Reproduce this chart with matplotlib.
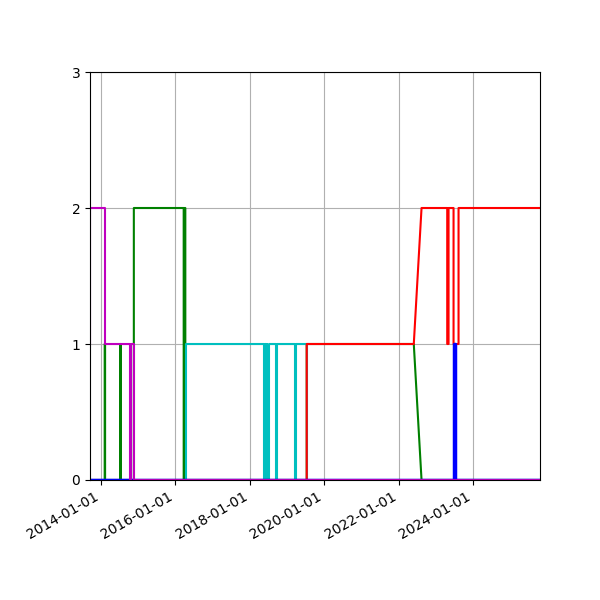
import matplotlib
matplotlib.use('Agg')
import matplotlib.pyplot as plt
import matplotlib.dates as mdates
import numpy as np

END = '2025-10-19'
START = '2013-09-18'

red_dates = [START, '2019-07-15', '2019-07-15', '2022-05-30', '2022-08-14', '2023-04-23', '2023-04-23',
             '2023-05-06', '2023-05-06', '2023-06-24', '2023-06-24', '2023-08-12', '2023-08-12', END]
red_vals = [0, 0, 1, 1, 2, 2, 1, 1, 2, 2, 1, 1, 2, 2]

green_dates = [START, '2014-02-09', '2014-02-09', '2014-02-13', '2014-02-13', '2014-07-12', '2014-07-12',
               '2014-07-16', '2014-07-16', '2014-11-22', '2014-11-22', '2016-03-25', '2016-03-25',
               '2016-04-04', '2016-04-04', '2016-04-10', '2016-04-10', '2019-07-15', '2019-07-15',
               '2022-05-30', '2022-08-14', END]
green_vals = [0, 0, 1, 1, 0, 0, 1, 1, 0, 0, 2, 2, 0, 0, 2, 2, 0, 0, 1, 1, 0, 0]

cyan_dates = [START, '2016-04-18', '2016-04-18', '2018-05-18', '2018-05-18', '2018-06-03', '2018-06-03',
              '2018-06-10', '2018-06-10', '2018-06-17', '2018-06-17', '2018-06-25', '2018-06-25',
              '2018-07-08', '2018-07-08', '2018-09-15', '2018-09-15', '2018-09-22', '2018-09-22',
              '2019-03-25', '2019-03-25', '2019-03-29', '2019-03-29', '2019-07-15', '2019-07-15', END]
cyan_vals = [0, 0, 1, 1, 0, 0, 1, 1, 0, 0, 1, 1, 0, 0, 1, 1, 0, 0, 1, 1, 0, 0, 1, 1, 0, 0]

blue_dates = [START, '2023-07-01', '2023-07-01', '2023-07-05', '2023-07-05', END]
blue_vals = [0, 0, 1, 1, 0, 0]

magenta_dates = [START, '2013-09-22', '2013-09-22', '2014-02-09', '2014-02-09', '2014-10-19', '2014-10-19',
                 '2014-10-25', '2014-10-25', '2014-11-25', '2014-11-25', END]
magenta_vals = [1, 1, 2, 2, 1, 1, 0, 0, 1, 1, 0, 0]

# drawing order matters: later series sit on top
series = [
    (green_dates, green_vals, 'g', 1.5),
    (cyan_dates, cyan_vals, 'c', 1.5),
    (red_dates, red_vals, 'r', 1.5),
    (blue_dates, blue_vals, 'b', 2.5),
    (magenta_dates, magenta_vals, 'm', 1.5),
]

fig, ax = plt.subplots(figsize=(6, 6), dpi=100)
fig.subplots_adjust(left=0.15, right=0.9, top=0.88, bottom=0.2)

for dates, vals, color, lw in series:
    ax.plot(np.array(dates, dtype='datetime64[D]'), vals, color=color, linewidth=lw)

ax.set_xlim(np.datetime64(START), np.datetime64(END))
ax.set_ylim(0, 3)
ax.set_yticks([0, 1, 2, 3])
ax.xaxis.set_major_locator(mdates.YearLocator(2))
ax.xaxis.set_major_formatter(mdates.DateFormatter('%Y-%m-%d'))
ax.grid(True)
plt.setp(ax.get_xticklabels(), rotation=30, ha='right')

plt.savefig('out.png', facecolor='white')
plt.close()
